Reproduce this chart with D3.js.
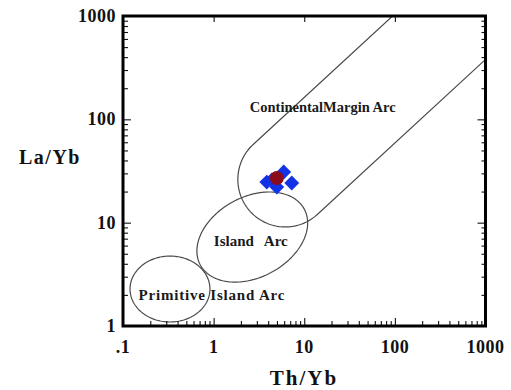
<!DOCTYPE html>
<html>
<head>
<meta charset="utf-8">
<script src="https://cdn.jsdelivr.net/npm/d3@7"></script>
<style>
  body { margin: 0; background: #fff; }
</style>
</head>
<body>
<svg id="chart" width="511" height="390"></svg>
<script>
// Individual samples (Th/Yb, La/Yb)
const sampleThYb = [3.86, 5.94, 7.28, 4.98, 4.39];
const sampleLaYb = [24.7, 30.9, 24.2, 22.1, 25.9];
// Mean composition
const meanThYb = [4.98];
const meanLaYb = [27.1];

// Axis ticks
const xTickValues = [0.1, 1, 10, 100, 1000];
const xTickLabels = [".1", "1", "10", "100", "1000"];
const yTickValues = [1, 10, 100, 1000];
const yTickLabels = ["1", "10", "100", "1000"];

// Closed fields: centre (Th/Yb, La/Yb) and two conjugate semi-axes in log10 decades
const primitiveCentre = [0.33, 2.28];
const primitiveAxes = [[0.441, 0.0], [0.0, 0.319]];
const islandCentre = [2.67, 7.26];
const islandAxes = [[0.575, 0.268], [0.207, -0.344]];
// Continental margin band: rounded lower end (centre, radii in decades) and band slope
const continentalCapCentre = [6.17, 26.2];
const continentalCapRadii = [0.523, 0.46];
const continentalSlope = 0.808;

// Field labels: text and anchor (Th/Yb, La/Yb)
const fieldLabels = ["ContinentalMargin Arc", "Island Arc", "Primitive Island Arc"];
const fieldLabelAt = [[16.0, 131.5], [2.57, 6.65], [0.957, 2.0]];

const serif = "'Liberation Serif', 'Times New Roman', serif";

const svg = d3.select("#chart")
  .attr("font-family", serif).attr("font-weight", "bold");
const plotL = 123, plotR = 485.5, plotT = 16, plotB = 326;

const x = d3.scaleLog().domain([0.1, 1000]).range([plotL, plotR]);
const y = d3.scaleLog().domain([1, 1000]).range([plotB, plotT]);

svg.append("defs").append("clipPath").attr("id", "plotArea")
  .append("rect").attr("x", plotL).attr("y", plotT)
  .attr("width", plotR - plotL).attr("height", plotB - plotT);

const line = d3.line().x(d => x(d[0])).y(d => y(d[1]));
const logPt = (lx, ly) => [Math.pow(10, lx), Math.pow(10, ly)];

function ellipsePoints(centre, axes) {
  const cx = Math.log10(centre[0]), cy = Math.log10(centre[1]);
  return d3.range(0, 361, 2).map(deg => {
    const t = deg * Math.PI / 180;
    return logPt(cx + axes[0][0] * Math.cos(t) + axes[1][0] * Math.sin(t),
                 cy + axes[0][1] * Math.cos(t) + axes[1][1] * Math.sin(t));
  });
}

const fields = svg.append("g").attr("clip-path", "url(#plotArea)")
  .attr("fill", "none").attr("stroke", "#4a4a4a").attr("stroke-width", 1.2);

fields.append("path").attr("d", line(ellipsePoints(primitiveCentre, primitiveAxes)));
fields.append("path").attr("d", line(ellipsePoints(islandCentre, islandAxes)));

// Continental margin band: two parallel lines joined by a rounded lower end
(function () {
  const cx = Math.log10(continentalCapCentre[0]), cy = Math.log10(continentalCapCentre[1]);
  const rx = continentalCapRadii[0], ry = continentalCapRadii[1];
  const t0 = Math.atan2(ry, -continentalSlope * rx);  // upper-left tangent
  const pts = [];
  const upper = [cx + rx * Math.cos(t0), cy + ry * Math.sin(t0)];
  pts.push(logPt(upper[0] + 5, upper[1] + 5 * continentalSlope));
  for (let k = 0; k <= 90; k++) {
    const t = t0 + Math.PI * k / 90;
    pts.push(logPt(cx + rx * Math.cos(t), cy + ry * Math.sin(t)));
  }
  const t1 = t0 + Math.PI;
  const lower = [cx + rx * Math.cos(t1), cy + ry * Math.sin(t1)];
  pts.push(logPt(lower[0] + 5, lower[1] + 5 * continentalSlope));
  fields.append("path").attr("d", line(pts));
})();

// Field labels
const labelSize = [14.5, 15, 15];
const labelTrack = [0, 0, 0.8];
const labelWordGap = [0, 7, 0];
svg.append("g").selectAll("text").data(fieldLabels).join("text")
  .attr("x", (d, i) => x(fieldLabelAt[i][0]))
  .attr("y", (d, i) => y(fieldLabelAt[i][1]))
  .attr("text-anchor", "middle")
  .attr("dominant-baseline", "central")
  .attr("font-size", (d, i) => labelSize[i])
  .attr("letter-spacing", (d, i) => labelTrack[i])
  .attr("word-spacing", (d, i) => labelWordGap[i])
  .attr("fill", "#1a1a1a")
  .text(d => d);

// Ticks (inward) on all four sides
const allX = x.ticks();
const allY = y.ticks();
function tickAxis(axis, values, size, transform) {
  const g = svg.append("g").attr("transform", transform)
    .call(axis.tickValues(values).tickSize(size).tickFormat(""));
  g.select(".domain").remove();
  g.selectAll("line").attr("stroke", "#111").attr("stroke-width", 1.1);
}
const yMinor = allY.filter(v => !yTickValues.includes(v));
const xMinor = allX.filter(v => !xTickValues.includes(v));
tickAxis(d3.axisBottom(x), xMinor, -5, `translate(0,${plotB})`);
tickAxis(d3.axisBottom(x), xTickValues.slice(1, -1), -8, `translate(0,${plotB})`);
tickAxis(d3.axisTop(x), xTickValues.slice(1, -1), -6, `translate(0,${plotT})`);
tickAxis(d3.axisLeft(y), yMinor, -5, `translate(${plotL},0)`);
tickAxis(d3.axisLeft(y), yTickValues.slice(1, -1), -8, `translate(${plotL},0)`);
tickAxis(d3.axisRight(y), yMinor, -4, `translate(${plotR},0)`);
tickAxis(d3.axisRight(y), yTickValues.slice(1, -1), -8, `translate(${plotR},0)`);

// Frame
svg.append("rect").attr("x", plotL).attr("y", plotT)
  .attr("width", plotR - plotL).attr("height", plotB - plotT)
  .attr("fill", "none").attr("stroke", "#000").attr("stroke-width", 3);

// Tick labels
svg.append("g").selectAll("text").data(xTickValues).join("text")
  .attr("x", d => x(d)).attr("y", plotB + 21)
  .attr("text-anchor", "middle").attr("dominant-baseline", "central")
  .attr("font-size", 18).attr("letter-spacing", 0.5).attr("fill", "#111")
  .text((d, i) => xTickLabels[i]);
svg.append("g").selectAll("text").data(yTickValues).join("text")
  .attr("x", plotL - 7).attr("y", d => y(d))
  .attr("text-anchor", "end").attr("dominant-baseline", "central")
  .attr("font-size", 18).attr("letter-spacing", 0.5).attr("fill", "#111")
  .text((d, i) => yTickLabels[i]);

// Axis titles
svg.append("text").attr("x", 304).attr("y", 378)
  .attr("text-anchor", "middle").attr("dominant-baseline", "central")
  .attr("font-size", 21).attr("letter-spacing", 2).attr("fill", "#111").text("Th/Yb");
svg.append("text").attr("x", 50).attr("y", 157)
  .attr("text-anchor", "middle").attr("dominant-baseline", "central")
  .attr("font-size", 20).attr("letter-spacing", 1.5).attr("fill", "#111").text("La/Yb");

// Samples: blue diamonds, mean: dark red circle
const diamond = d3.symbol().type(d3.symbolSquare).size(110);
svg.append("g").selectAll("path").data(sampleThYb).join("path")
  .attr("d", diamond)
  .attr("transform", (d, i) => `translate(${x(d)},${y(sampleLaYb[i])}) rotate(45)`)
  .attr("fill", "#1232e6");
svg.append("g").selectAll("circle").data(meanThYb).join("circle")
  .attr("cx", d => x(d)).attr("cy", (d, i) => y(meanLaYb[i]))
  .attr("r", 7).attr("fill", "#8a0c1c");
</script>
</body>
</html>
